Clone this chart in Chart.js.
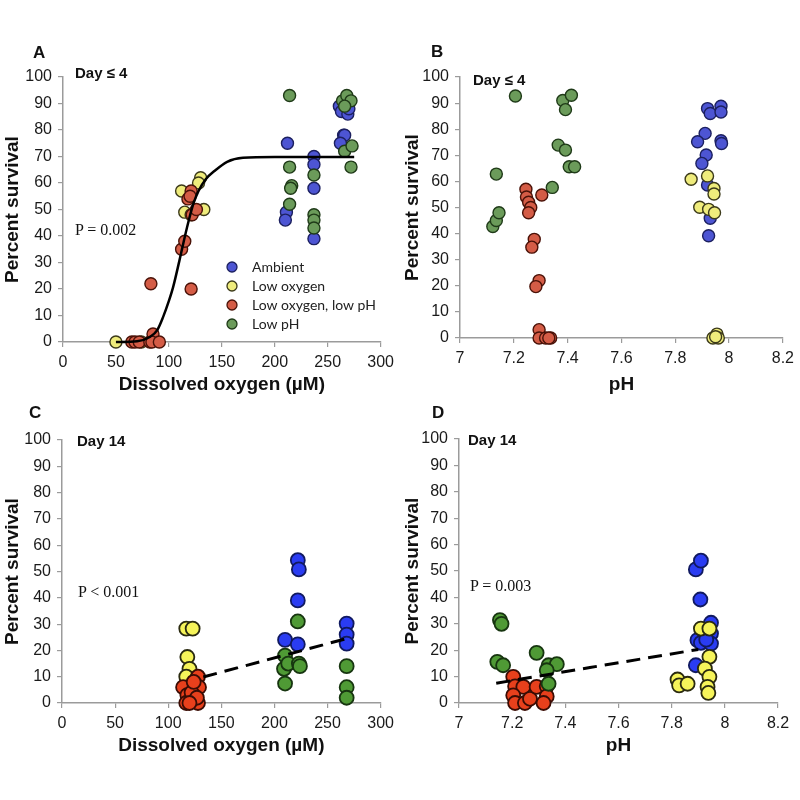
<!DOCTYPE html>
<html>
<head>
<meta charset="utf-8">
<script src="https://cdn.jsdelivr.net/npm/chart.js@4.4.1/dist/chart.umd.min.js"></script>
<style>
  body { margin: 0; background: #fff; }
  #wrap { position: relative; width: 800px; height: 800px; font-family: "Liberation Sans", Arial, sans-serif; color: #111; }
  canvas { position: absolute; }
  .note { position: absolute; white-space: nowrap; transform: translateY(-50%); }
  .letter { font-weight: bold; font-size: 17px; }
  .day { font-weight: bold; font-size: 15px; }
  .pval { font-family: "Liberation Serif", "Times New Roman", serif; font-size: 16px; }
</style>
</head>
<body>
<div id="wrap">
  <canvas id="cA" width="400" height="400" style="left:0;top:0"></canvas>
  <canvas id="cB" width="400" height="400" style="left:400px;top:0"></canvas>
  <canvas id="cC" width="400" height="400" style="left:0;top:400px"></canvas>
  <canvas id="cD" width="400" height="400" style="left:400px;top:400px"></canvas>

  <div class="note letter" style="left:33px;top:53px">A</div>
  <div class="note letter" style="left:431px;top:52px">B</div>
  <div class="note letter" style="left:29px;top:413px">C</div>
  <div class="note letter" style="left:432px;top:413px">D</div>

  <div class="note day" style="left:75px;top:72px">Day ≤ 4</div>
  <div class="note day" style="left:473px;top:79px">Day ≤ 4</div>
  <div class="note day" style="left:77px;top:440px">Day 14</div>
  <div class="note day" style="left:468px;top:439px">Day 14</div>

  <div class="note pval" style="left:75px;top:230px">P = 0.002</div>
  <div class="note pval" style="left:78px;top:592px">P &lt; 0.001</div>
  <div class="note pval" style="left:470px;top:586px">P = 0.003</div>
</div>

<script>
// groups, in legend order
const groups = ['Ambient', 'Low oxygen', 'Low oxygen, low pH', 'Low pH'];

// A: day <= 4, survival vs dissolved oxygen (uM)
const aAmbient = [[212,75],[211,49],[210,46],[237,70],[237,67],[237,58],[237,39],
  [261,89],[263,87],[269,86],[265,78],[266,78],[262,75],[270,88]];
const aLowO2 = [[50,0],[74,0],[112,57],[115,49],[121,48],[130,62],[128,60],[133,50]];
const aLowO2pH = [[65,0],[68,0],[72,0],[82,0],[85,3],[84,0],[91,0],[83,22],[121,20],
  [112,35],[115,38],[118,54],[121,57],[120,55],[122,48],[126,50]];
const aLowpH = [[214,93],[214,66],[216,59],[215,58],[214,52],[237,63],[237,48],[237,46],[237,43],
  [264,91],[268,93],[272,91],[266,89],[266,72],[273,74],[272,66]];
const aFit = [[50,0],[70,0.3],[82,1.9],[89,4.5],[94.5,9.4],[100,15.5],[104,20.7],[110,30.8],
  [117,43],[123,52],[128,57],[135,61.5],[143,64.5],[155,68],[170,69.5],[200,69.8],[275,69.8]];

// B: day <= 4, survival vs pH
const bAmbient = [[7.92,87.9],[7.93,86],[7.97,88.8],[7.97,86.6],[7.911,78.4],[7.883,75.2],[7.97,75.6],
  [7.972,74.5],[7.915,70.1],[7.899,66.9],[7.92,58.6],[7.93,45.9],[7.924,39.2]];
const bLowO2 = [[7.859,60.8],[7.92,62.1],[7.944,57.3],[7.944,55.2],[7.891,50.1],[7.924,49.3],[7.946,48],
  [7.94,0],[7.955,1.5],[7.96,0],[7.95,0.5]];
const bLowO2pH = [[7.245,57],[7.247,54],[7.255,52],[7.263,50],[7.255,48],[7.304,54.8],[7.276,37.8],
  [7.267,34.8],[7.294,22],[7.282,19.7],[7.294,3.2],[7.294,0],[7.318,0],[7.337,0],[7.33,0]];
const bLowpH = [[7.122,42.7],[7.135,45],[7.145,48],[7.135,62.8],[7.206,92.7],[7.343,57.7],[7.365,73.9],
  [7.392,72],[7.382,91],[7.392,87.5],[7.414,93],[7.406,65.6],[7.426,65.6]];

// C: day 14, survival vs dissolved oxygen (uM)
const cAmbient = [[222,54.3],[223,50.8],[222,39],[210,24],[222,22.3],[268,30.2],[268,26],[268,22.6]];
const cLowO2 = [[117,28.3],[123,28.3],[118,17.5],[120,13],[117,10]];
const cLowO2pH = [[114,6],[118,3],[117,0],[128,10],[129,6],[128,0],[122,4],[124,8],[127,2],[120,0]];
const cLowpH = [[209,13],[210,18],[210,7.4],[213,15],[222,31],[223,15],[224,14],[268,14],[268,6],[268,2]];
const cFit = [[133,9.9],[268,24.5]];

// D: day 14, survival vs pH
const dAmbient = [[7.891,50.6],[7.91,53.9],[7.908,39.2],[7.948,30.4],[7.897,23.8],[7.948,26.3],
  [7.91,22.8],[7.948,22.5],[7.891,14.3],[7.93,24]];
const dLowO2 = [[7.822,8.9],[7.828,6.7],[7.86,7.3],[7.91,28.2],[7.942,28.2],[7.942,17.5],[7.925,13],
  [7.942,9.9],[7.935,6.1],[7.938,3.8]];
const dLowO2pH = [[7.204,9.9],[7.211,6.3],[7.242,6.1],[7.204,2.9],[7.211,0],[7.248,0],[7.267,1.6],
  [7.292,6.1],[7.33,6.3],[7.33,2.5],[7.318,0]];
const dLowpH = [[7.154,31.4],[7.16,30],[7.144,15.6],[7.166,14.3],[7.292,19],[7.337,14.3],[7.368,14.7],
  [7.33,12.4],[7.337,7.3]];
const dFit = [[7.14,7.5],[7.9,20.3]];

const doRange = [0, 300, 50];
const phRange = [7, 8.2, 0.2];
const survRange = [0, 100, 10];

const topFill = ['#4d55d3', '#efec7c', '#d45c46', '#6b9b5a'];
const topEdge = ['#1c2060', '#3c3a1a', '#4a1208', '#1f3a18'];
const botFill = ['#2a3cf2', '#f6f45a', '#e8401c', '#4f9a35'];
const botEdge = ['#111a60', '#2a2a10', '#3a0c04', '#173510'];

const pts = arr => arr.map(p => ({ x: p[0], y: p[1] }));

const legendPlugin = {
  id: 'boxLegend',
  afterDatasetsDraw(chart, args, opts) {
    if (!opts.show) return;
    const ctx = chart.ctx;
    ctx.save();
    ctx.font = '14px Lato';
    ctx.textBaseline = 'middle';
    chart.data.datasets.filter(d => d.inLegend).forEach((d, i) => {
      const y = opts.y + i * opts.gap;
      ctx.beginPath();
      ctx.arc(opts.x, y, 5, 0, Math.PI * 2);
      ctx.fillStyle = d.backgroundColor;
      ctx.fill();
      ctx.lineWidth = 1.3;
      ctx.strokeStyle = d.borderColor;
      ctx.stroke();
      ctx.fillStyle = '#222';
      ctx.fillText(d.label, opts.textX, y);
    });
    ctx.restore();
  }
};

function panel(id, p) {
  const series = [p.amb, p.lo, p.lopH, p.pH];
  const datasets = series.map((s, i) => ({
    label: groups[i],
    data: pts(s),
    backgroundColor: p.fill[i],
    borderColor: p.edge[i],
    borderWidth: p.bw,
    pointRadius: p.r,
    order: 4 - i,
    clip: false,
    inLegend: true
  }));
  if (p.fit) {
    datasets.unshift({
      label: 'fit',
      data: pts(p.fit),
      showLine: true,
      pointRadius: 0,
      borderColor: '#000',
      borderWidth: p.dash ? 3 : 2.5,
      borderDash: p.dash || [],
      tension: 0.4,
      cubicInterpolationMode: 'monotone',
      order: 0,
      clip: false
    });
  }
  const tickFont = { family: 'Liberation Sans', size: 16 };
  const titleFont = { family: 'Liberation Sans', size: 19, weight: 'bold' };
  const grid = { drawOnChartArea: false, color: '#9b9b9b', tickLength: 5, lineWidth: 1.2 };
  const border = { color: '#9b9b9b', width: 1.5 };
  return new Chart(document.getElementById(id), {
    type: 'scatter',
    data: { datasets },
    options: {
      responsive: false,
      animation: false,
      layout: { padding: { left: 0, top: p.top, right: p.right, bottom: 0 } },
      plugins: {
        legend: { display: false },
        tooltip: { enabled: false },
        boxLegend: p.legend || { show: false }
      },
      scales: {
        x: {
          type: 'linear',
          min: p.xr[0], max: p.xr[1],
          grid, border,
          ticks: { stepSize: p.xr[2], font: tickFont, color: '#1a1a1a', padding: 6, maxRotation: 0, autoSkip: false,
            callback: v => String(+v.toFixed(1)) },
          title: { display: true, text: p.xTitle, font: titleFont, color: '#111', padding: { top: 0, bottom: p.xTitlePad } },
          afterFit: s => { s.height = p.xh; }
        },
        y: {
          type: 'linear',
          min: survRange[0], max: survRange[1],
          grid, border,
          ticks: { stepSize: survRange[2], font: tickFont, color: '#1a1a1a', padding: 6 },
          title: { display: true, text: 'Percent survival', font: titleFont, color: '#111', padding: { top: 1, bottom: 0 } },
          afterFit: s => { s.width = p.yw; }
        }
      }
    },
    plugins: [legendPlugin]
  });
}

panel('cA', { amb: aAmbient, lo: aLowO2, lopH: aLowO2pH, pH: aLowpH, fit: aFit,
  fill: topFill, edge: topEdge, r: 6, bw: 1.4, xr: doRange, xTitle: 'Dissolved oxygen (µM)',
  top: 77, right: 18, yw: 63, xh: 58, xTitlePad: 4,
  legend: { show: true, x: 232, textX: 252, y: 267, gap: 19 } });

panel('cB', { amb: bAmbient, lo: bLowO2, lopH: bLowO2pH, pH: bLowpH,
  fill: topFill, edge: topEdge, r: 6, bw: 1.4, xr: phRange, xTitle: 'pH',
  top: 77, right: 13, yw: 60, xh: 62, xTitlePad: 4 });

panel('cC', { amb: cAmbient, lo: cLowO2, lopH: cLowO2pH, pH: cLowpH, fit: cFit, dash: [14, 8],
  fill: botFill, edge: botEdge, r: 7, bw: 1.8, xr: doRange, xTitle: 'Dissolved oxygen (µM)',
  top: 40, right: 18, yw: 62, xh: 97, xTitlePad: 43 });

panel('cD', { amb: dAmbient, lo: dLowO2, lopH: dLowO2pH, pH: dLowpH, fit: dFit, dash: [14, 8],
  fill: botFill, edge: botEdge, r: 7, bw: 1.8, xr: phRange, xTitle: 'pH',
  top: 39, right: 22, yw: 59, xh: 97, xTitlePad: 43 });
</script>
</body>
</html>
